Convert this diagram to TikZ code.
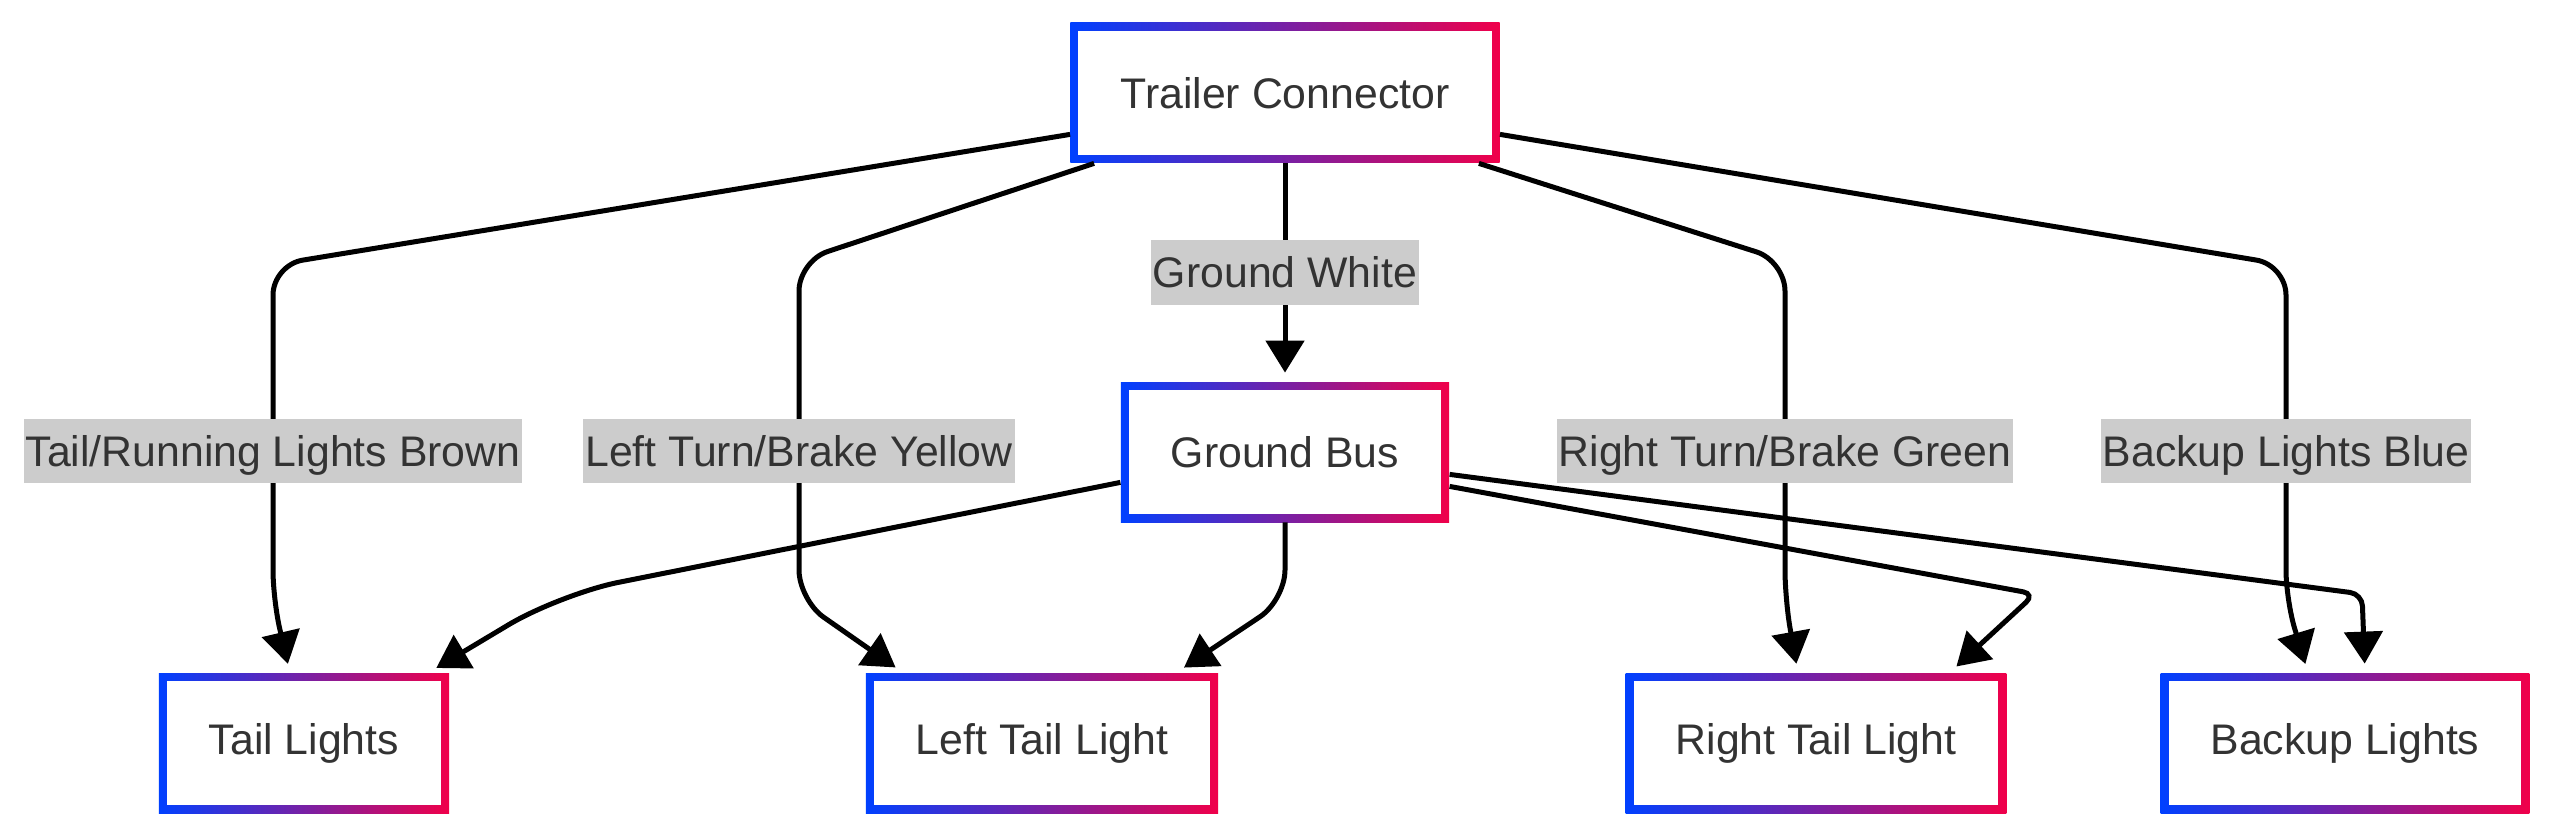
\documentclass[tikz,border=0pt]{standalone}
\usepackage{fontspec}
\setmainfont{Liberation Sans}
\usetikzlibrary{arrows.meta,calc}
\definecolor{wireblue}{HTML}{0040FF}
\definecolor{wirered}{HTML}{F0004A}
\definecolor{labelgray}{HTML}{CCCCCC}
\definecolor{textgray}{HTML}{333333}
\begin{document}
\begin{tikzpicture}[x=0.5pt, y=-0.5pt,
  every node/.style = {font=\fontsize{21.4pt}{25pt}\selectfont, text=textgray},
  part/.style = {shape=rectangle, fill=white, minimum height=70pt, inner xsep=25pt,
    path picture={
      \shade[left color=wireblue, right color=wirered]
        (path picture bounding box.south west) rectangle (path picture bounding box.north east);
      \fill[white] ([shift={(4pt,4pt)}]path picture bounding box.south west)
        rectangle ([shift={(-4pt,-4pt)}]path picture bounding box.north east);}},
  wire/.style = {draw=black, line width=2.5pt, rounded corners=15pt,
    -{Triangle[length=16pt,width=19pt]}, shorten >=4.5pt},
  tag/.style = {sharp corners, fill=labelgray, inner xsep=1pt, inner ysep=0pt,
    text height=23.8pt, text depth=8.5pt}]
  \useasboundingbox (0,0) rectangle (2560,840);
  \node[part] (tc) at (1285,93) {Trailer Connector};
  \node[part] (gb) at (1285,452) {Ground Bus};
  \node[part] (tl) at (304,743) {Tail Lights};
  \node[part] (ltl) at (1042,743) {Left Tail Light};
  \node[part] (rtl) at (1816,743) {Right Tail Light};
  \node[part] (bl) at (2345,743) {Backup Lights};

  \draw[wire] ($(tc.south west)+(0,-29)$) -- (273,265)
    -- node[tag, pos=0.555] {Tail/Running Lights Brown} (273,600) -- ($(tl.north)+(-14,0)$);
  \draw[wire] ($(tc.south west)+(24,0)$) -- (799,261)
    -- node[tag, pos=0.56] {Left Turn/Brake Yellow} (799,600) -- ($(ltl.north)+(-139,0)$);
  \draw[wire] (tc) -- node[tag] {Ground White} (gb);
  \draw[wire] ($(tc.south east)+(-21,0)$) -- (1785,261)
    -- node[tag, pos=0.56] {Right Turn/Brake Green} (1785,600) -- ($(rtl.north)+(-18,0)$);
  \draw[wire] ($(tc.south east)+(0,-29)$) -- (2286,265)
    -- node[tag, pos=0.555] {Backup Lights Blue} (2286,600) -- ($(bl.north)+(-37,0)$);

  \draw[wire, rounded corners=30pt] ($(gb.south west)+(0,-40)$) -- (560,594) -- ($(tl.north east)+(-21,0)$);
  \draw[wire] (gb.south) -- (1285,600) -- ($(ltl.north east)+(-42,0)$);
  \draw[wire, rounded corners=6pt] ($(gb.south east)+(0,-36)$) -- (2035,594) -- ($(rtl.north east)+(-57,0)$);
  \draw[wire, rounded corners=6pt] ($(gb.south east)+(0,-48)$) -- (2362,594) -- ($(bl.north)+(20,0)$);
\end{tikzpicture}
\end{document}
